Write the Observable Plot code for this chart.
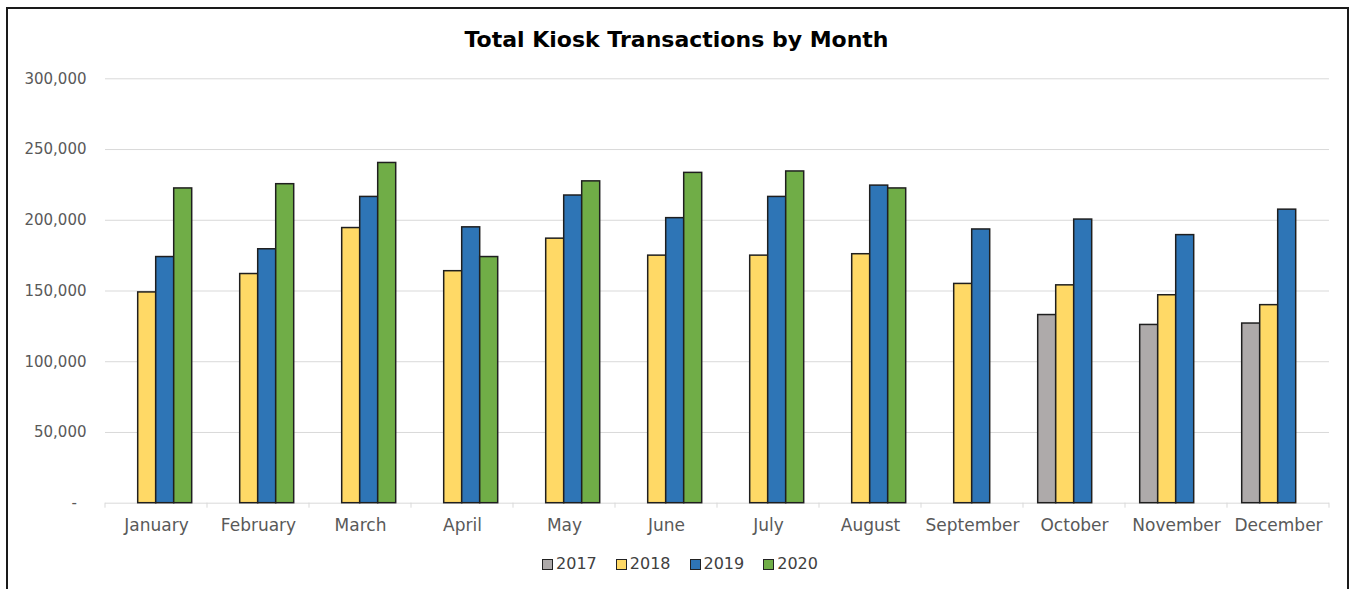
<!DOCTYPE html>
<html>
<head>
<meta charset="utf-8">
<script src="https://cdn.jsdelivr.net/npm/d3@7"></script>
<script src="https://cdn.jsdelivr.net/npm/@observablehq/plot@0.6"></script>
<style>
  html, body { margin: 0; padding: 0; background: #fff; }
  body { width: 1351px; height: 589px; position: relative; overflow: hidden; font-family: "DejaVu Sans", sans-serif; }
  #frame { position: absolute; left: 6px; top: 7px; width: 1343px; height: 640px; border: 2px solid #1a1a1a; box-sizing: border-box; }
  #title { position: absolute; left: 0; width: 1353px; top: 27px; text-align: center; font-weight: bold; font-size: 22px; line-height: 26px; color: #000; }
  #chart { position: absolute; left: 0; top: 50px; }
  #legend { position: absolute; left: 0; width: 1360px; top: 554px; display: flex; justify-content: center; font-size: 16px; color: #404040; line-height: 20px; }
  .item { display: flex; align-items: center; margin: 0 9.5px; }
  .sw { width: 11px; height: 11px; box-sizing: border-box; border: 1.5px solid #222; margin-right: 3px; }
</style>
</head>
<body>
<div id="frame"></div>
<div id="title">Total Kiosk Transactions by Month</div>
<div id="chart"></div>
<div id="legend"></div>
<script>
const months = ["January","February","March","April","May","June","July","August","September","October","November","December"];
const years = ["2017","2018","2019","2020"];
const colors = ["#AEAAAA","#FFD966","#2E75B6","#70AD47"];
const v2017 = [null,null,null,null,null,null,null,null,null,133000,126000,127000];
const v2018 = [149000,162000,194500,164000,187000,175000,175000,176000,155000,154000,147000,140000];
const v2019 = [174000,179500,216500,195000,217500,201500,216500,224500,193500,200500,189500,207500];
const v2020 = [222500,225500,240500,174000,227500,233500,234500,222500,null,null,null,null];
const yTicks = [0,50000,100000,150000,200000,250000,300000];

const series = [v2017, v2018, v2019, v2020];
const table = years.flatMap((yr, i) => months.map((m, j) => ({month: m, year: yr, value: series[i][j]}))).filter(d => d.value != null);

const fmt = d3.format(",");
const plot = Plot.plot({
  width: 1351, height: 500,
  marginTop: 28.3, marginBottom: 47.3, marginLeft: 104.3, marginRight: 22,
  style: {fontFamily: "DejaVu Sans", background: "transparent", overflow: "visible"},
  fx: {domain: months, padding: 0, axis: null},
  x: {domain: years, paddingInner: 0, paddingOuter: 0.73, axis: null},
  y: {domain: [0, 300000], axis: null},
  color: {domain: years, range: colors},
  marks: [
    Plot.gridY(yTicks, {stroke: "#d9d9d9", strokeOpacity: 1, strokeWidth: 1}),
    Plot.axisY(yTicks, {tickSize: 0, tickPadding: 19, fontSize: 15, color: "#595959", label: null,
      tickFormat: d => d === 0 ? "-\u00a0\u00a0" : fmt(d)}),
    Plot.axisFx({anchor: "bottom", tickSize: 0, tickPadding: 16, fontSize: 17, color: "#595959", label: null}),
    Plot.barY(table, {fx: "month", x: "year", y: "value", fill: "year", stroke: "#1f1f1f", strokeWidth: 1.5, inset: 0})
  ]
});
document.getElementById("chart").appendChild(plot);

// category boundary tick marks on the x axis, placed with the plot's own fx and y scales
const fxs = plot.scale("fx");
const ys = plot.scale("y");
const y0 = ys.apply(0);
const svg = d3.select(plot);
const edges = months.map(m => fxs.apply(m)).concat([fxs.apply(months[months.length - 1]) + fxs.bandwidth]);
svg.append("g").selectAll("line").data(edges).join("line")
  .attr("x1", d => d).attr("x2", d => d).attr("y1", y0).attr("y2", y0 + 5)
  .attr("stroke", "#d9d9d9").attr("stroke-width", 1);

// legend
const legend = d3.select("#legend");
years.forEach((yr, i) => {
  const it = legend.append("div").attr("class", "item");
  it.append("div").attr("class", "sw").style("background", colors[i]);
  it.append("span").text(yr);
});
</script>
</body>
</html>
